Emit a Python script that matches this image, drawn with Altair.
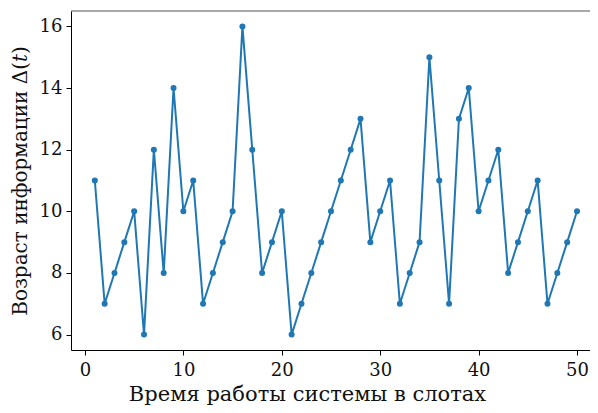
import altair as alt
import pandas as pd

slots = list(range(1, 51))
age = [11, 7, 8, 9, 10, 6, 12, 8, 14, 10,
       11, 7, 8, 9, 10, 16, 12, 8, 9, 10,
       6, 7, 8, 9, 10, 11, 12, 13, 9, 10,
       11, 7, 8, 9, 15, 11, 7, 13, 14, 10,
       11, 12, 8, 9, 10, 11, 7, 8, 9, 10]
x_ticks = [0, 10, 20, 30, 40, 50]
y_ticks = [6, 8, 10, 12, 14, 16]

df = pd.DataFrame({"slot": slots, "age": age})

FONT = "DejaVu Serif"
W, H = 519, 339

base = alt.Chart(df)

line = base.mark_line(color="#1f77b4", strokeWidth=2, point=alt.OverlayMarkDef(color="#1f77b4", size=36, opacity=1)).encode(
    x=alt.X("slot:Q",
            scale=alt.Scale(domain=[-1.42, 51.32], nice=False, zero=False),
            axis=alt.Axis(values=x_ticks, title="Время работы системы в слотах",
                          grid=False, tickSize=5, tickColor="#000", domainColor="#000",
                          labelFontSize=18, titleFontSize=21, labelPadding=6,
                          titlePadding=4, titleX=236, titleAlign="center",
                          labelColor="#111", titleColor="#111",
                          labelFont=FONT, titleFont=FONT, titleFontWeight="normal")),
    y=alt.Y("age:Q",
            scale=alt.Scale(domain=[5.5, 16.5], nice=False, zero=False),
            axis=alt.Axis(values=y_ticks, title="Возраст информации Δ(𝑡)",
                          grid=False, tickSize=5, tickColor="#000", domainColor="#000",
                          labelFontSize=18, titleFontSize=20, labelPadding=4,
                          titlePadding=9, labelColor="#111", titleColor="#111",
                          labelFont=FONT, titleFont=FONT, titleFontWeight="normal")),
)

top = alt.Chart(pd.DataFrame({"k": [0]})).mark_rule(color="#555", strokeWidth=1.2).encode(
    x=alt.value(0), x2=alt.value(W), y=alt.value(0)
)

chart = alt.layer(line, top).properties(
    width=W, height=H,
    autosize=alt.AutoSizeParams(type="none"),
    padding={"left": 63, "top": 3, "right": 0, "bottom": 55},
).configure_view(stroke=None)

chart.save("out.html", embed_options={"renderer": "svg", "actions": False})
